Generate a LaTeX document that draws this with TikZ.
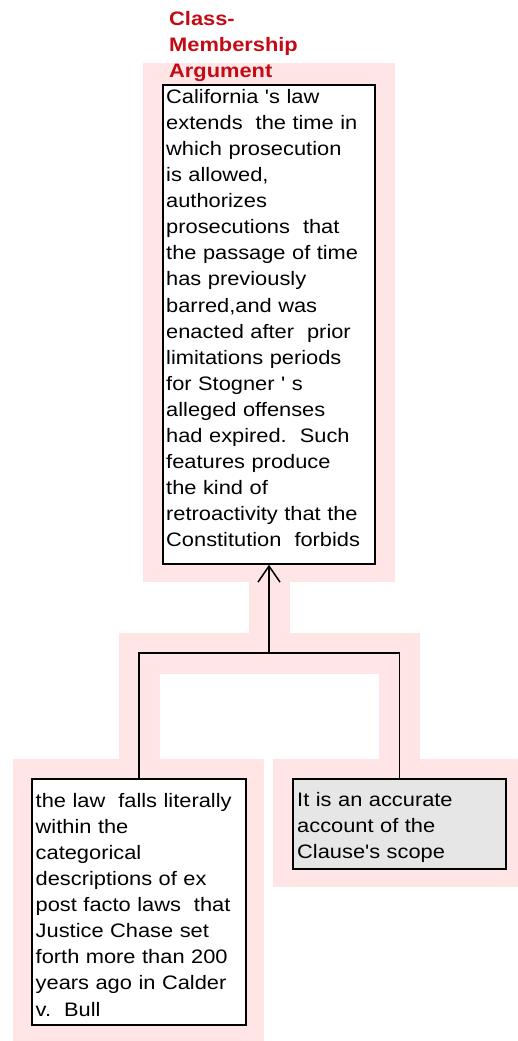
\documentclass[tikz,border=0pt]{standalone}
\usepackage{fontspec}
\setmainfont{Liberation Sans}[FakeStretch=1.12, Ligatures=TeXOff]
\usetikzlibrary{arrows.meta,backgrounds}
\definecolor{halo}{HTML}{FFE5E5}
\definecolor{titlered}{HTML}{C40A14}
\definecolor{premfill}{HTML}{E6E6E6}
\tikzset{
  halobg/.style={fill=halo, draw=none},
  halolink/.style={draw=halo, line width=41pt, line join=miter},
  argbox/.style={draw=black, line width=1.5pt, fill=white, inner sep=0pt},
  grayarg/.style={argbox, fill=premfill},
  link/.style={draw=black, line width=1.5pt},
  txt/.style={anchor=north west, inner sep=0pt, align=left, text width=215pt,
    font=\fontsize{19.5}{26.1}\selectfont},
  ttl/.style={txt, text=titlered, font=\bfseries\fontsize{19.5}{26}\selectfont}
}
\newcommand{\firstline}{\rule{0pt}{18pt}}
\begin{document}
\begin{tikzpicture}[x=1pt, y=-1pt]
\useasboundingbox (0,0) rectangle (518,1041);

% argument boxes
\node[argbox, minimum width=212pt, minimum height=479pt] (claim) at (269,324.5) {};
\node[argbox, minimum width=214pt, minimum height=246pt] (left) at (139,902) {};
\node[grayarg, minimum width=213pt, minimum height=90pt] (right) at (399.5,824) {};
\coordinate (jn) at (269,653);

% pink halos behind boxes and connectors
\begin{scope}[on background layer]
  \fill[halobg] (143,63) rectangle (395,582);
  \fill[halobg] (13,759) rectangle (264,1041);
  \fill[halobg] (273,759) rectangle (518,887);
  \draw[halolink] (left.north) |- (jn);
  \draw[halolink] (right.north) |- (jn);
  \draw[halolink] (jn) -- (claim.south);
\end{scope}

% connectors
\draw[link] (left.north) |- (jn);
\draw[link] (right.north) |- (jn);
\draw[link, -{Straight Barb[length=16pt, width=22pt]}] (jn) -- (claim.south);

% texts
\node[ttl] (title) at (169,7) {\firstline Class-\\Membership\\Argument};
\node[txt] (claimtext) at (166,85) {\firstline California 's law\\
extends\ \ the time in\\
which prosecution\\
is allowed,\\
authorizes\\
prosecutions\ \ that\\
the passage of time\\
has previously\\
barred,and was\\
enacted after\ \ prior\\
limitations periods\\
for Stogner ' s\\
alleged offenses\\
had expired.\ \ Such\\
features produce\\
the kind of\\
retroactivity that the\\
Constitution\ \ forbids};
\node[txt] (lefttext) at (35.5,789) {\firstline the law\ \ falls literally\\
within the\\
categorical\\
descriptions of ex\\
post facto laws\ \ that\\
Justice Chase set\\
forth more than 200\\
years ago in Calder\\
v.\ \ Bull};
\node[txt] (righttext) at (297,788) {\firstline It is an accurate\\
account of the\\
Clause's scope};
\end{tikzpicture}
\end{document}
